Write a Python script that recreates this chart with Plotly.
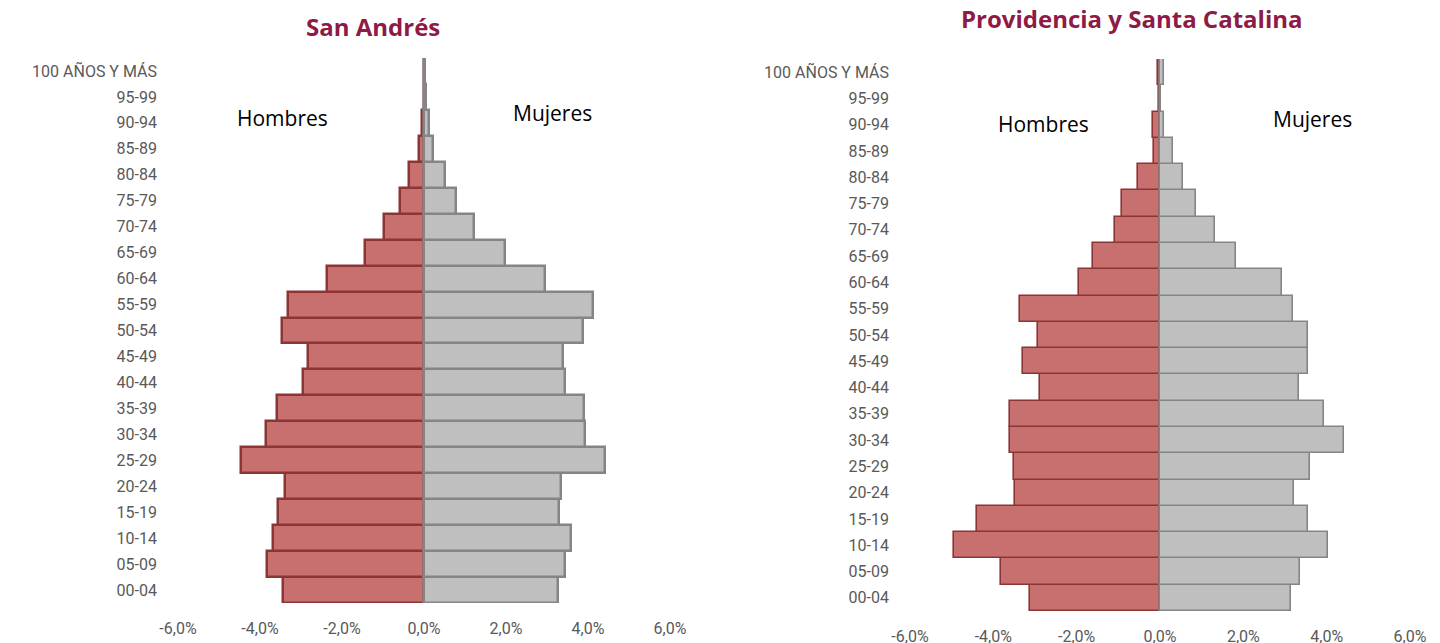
"""Pirámides de población: San Andrés / Providencia y Santa Catalina."""

import plotly.graph_objects as go

grupos = [
    "00-04", "05-09", "10-14", "15-19", "20-24", "25-29", "30-34", "35-39",
    "40-44", "45-49", "50-54", "55-59", "60-64", "65-69", "70-74", "75-79",
    "80-84", "85-89", "90-94", "95-99", "100 AÑOS Y MÁS",
]

# San Andrés (% of total population)
sa_hombres = [3.44, 3.82, 3.69, 3.56, 3.39, 4.46, 3.85, 3.59, 2.95, 2.82, 3.46,
              3.32, 2.37, 1.45, 0.97, 0.59, 0.36, 0.13, 0.04, 0.01, 0.005]
sa_mujeres = [3.28, 3.44, 3.58, 3.30, 3.34, 4.42, 3.93, 3.91, 3.44, 3.39, 3.89,
              4.11, 2.94, 1.97, 1.21, 0.77, 0.51, 0.23, 0.13, 0.05, 0.03]

# Providencia y Santa Catalina
ps_hombres = [3.12, 3.81, 4.94, 4.40, 3.47, 3.50, 3.59, 3.59, 2.88, 3.30, 2.93,
              3.37, 1.94, 1.62, 1.07, 0.91, 0.53, 0.14, 0.18, 0.03, 0.06]
ps_mujeres = [3.14, 3.36, 4.02, 3.54, 3.22, 3.59, 4.41, 3.93, 3.34, 3.54, 3.54,
              3.20, 2.93, 1.82, 1.33, 0.87, 0.54, 0.30, 0.09, 0.03, 0.10]

x_ticks = [-6, -4, -2, 0, 2, 4, 6]
x_labels = ["-6,0%", "-4,0%", "-2,0%", "0,0%", "2,0%", "4,0%", "6,0%"]

MALE_FILL = "#C87070"
MALE_LINE = "#8B3535"
FEMALE_FILL = "#BFBFBF"
FEMALE_LINE = "#858585"
TITLE_COLOR = "#8E1A45"
TICK_COLOR = "#595959"
TICK_FONT = "Roboto"

W, H = 1440, 643
OFF = 8  # page body margin in the browser


def px_x(x):
    return (x - OFF) / W


def px_y(y):
    return 1 - (y - OFF) / H


fig = go.Figure()

for axis, hombres, mujeres, lw in [
    ("", sa_hombres, sa_mujeres, 2.5),
    ("2", ps_hombres, ps_mujeres, 1.6),
]:
    fig.add_trace(go.Bar(
        y=grupos, x=[-v for v in hombres], orientation="h", name="Hombres",
        marker=dict(color=MALE_FILL, line=dict(color=MALE_LINE, width=lw)),
        xaxis="x" + axis, yaxis="y" + axis, showlegend=False,
    ))
    fig.add_trace(go.Bar(
        y=grupos, x=mujeres, orientation="h", name="Mujeres",
        marker=dict(color=FEMALE_FILL, line=dict(color=FEMALE_LINE, width=lw)),
        xaxis="x" + axis, yaxis="y" + axis, showlegend=False,
    ))

xaxis_style = dict(
    range=[-6, 6], tickvals=x_ticks, ticktext=x_labels, showgrid=False,
    zeroline=False, showline=False, ticks="", ticklabelstandoff=14,
    automargin=False,
    tickfont=dict(family=TICK_FONT, size=16, color=TICK_COLOR),
)
yaxis_style = dict(
    type="category", categoryorder="array", categoryarray=grupos,
    range=[-0.5, 20.5], showgrid=False, zeroline=False, showline=False,
    ticks="", ticklabelstandoff=20, automargin=False,
    tickfont=dict(family=TICK_FONT, size=16, color=TICK_COLOR),
)

fig.update_layout(
    width=W, height=H,
    margin=dict(l=0, r=0, t=0, b=0, autoexpand=False),
    paper_bgcolor="white", plot_bgcolor="white",
    barmode="relative", bargap=0.0,
    xaxis=dict(domain=[px_x(178), px_x(670)], anchor="y", **xaxis_style),
    yaxis=dict(domain=[px_y(603), px_y(58)], anchor="x", **yaxis_style),
    xaxis2=dict(domain=[px_x(910), px_x(1410)], anchor="y2", **xaxis_style),
    yaxis2=dict(domain=[px_y(611), px_y(59)], anchor="x2", **yaxis_style),
)

annotations = [
    dict(text="<b>San Andrés</b>", x=373, y=27, size=24, color=TITLE_COLOR),
    dict(text="<b>Providencia y Santa Catalina</b>", x=1131, y=18, size=24, color=TITLE_COLOR),
    dict(text="Hombres", x=282, y=118, size=21, color="black"),
    dict(text="Mujeres", x=552, y=113, size=21, color="black"),
    dict(text="Hombres", x=1043, y=124, size=21, color="black"),
    dict(text="Mujeres", x=1312, y=119, size=21, color="black"),
]
for a in annotations:
    fig.add_annotation(
        text=a["text"], x=px_x(a["x"]), y=px_y(a["y"]),
        xref="paper", yref="paper", xanchor="center", yanchor="middle",
        showarrow=False, font=dict(family="Open Sans", size=a["size"], color=a["color"]),
    )

fig.write_html("out.html")
